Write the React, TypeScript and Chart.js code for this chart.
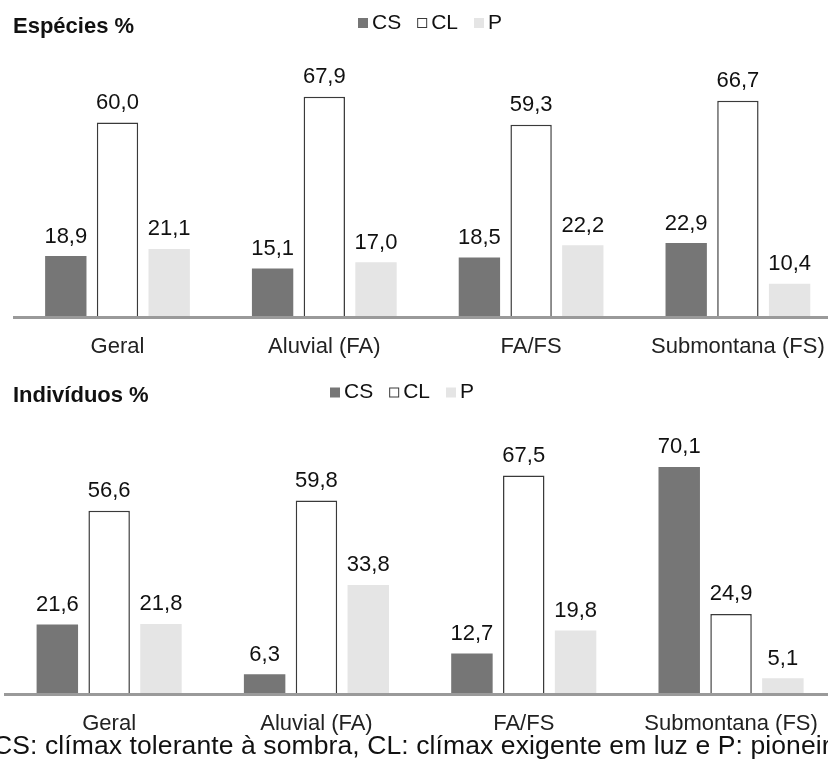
import React, { useEffect, useRef } from 'react';
import { Chart, registerables } from 'chart.js';

Chart.register(...registerables);

// ---- data ----
const categories = ['Geral', 'Aluvial (FA)', 'FA/FS', 'Submontana (FS)'];
const seriesNames = ['CS', 'CL', 'P'];
const especiesCS = [18.9, 15.1, 18.5, 22.9];
const especiesCL = [60.0, 67.9, 59.3, 66.7];
const especiesP = [21.1, 17.0, 22.2, 10.4];
const individuosCS = [21.6, 6.3, 12.7, 70.1];
const individuosCL = [56.6, 59.8, 67.5, 24.9];
const individuosP = [21.8, 33.8, 19.8, 5.1];
const panelTitles = ['Espécies %', 'Indivíduos %'];
const caption = 'CS: clímax tolerante à sombra, CL: clímax exigente em luz e P: pioneiras.';

const FONT = '"Liberation Sans", Arial, Helvetica, sans-serif';
const fillColors = ['#767676', '#ffffff', '#e5e5e5'];
const borderColors = ['#767676', '#3a3a3a', '#e5e5e5'];
const borderWidths = [0, 1.5, 0];

const valueLabelPlugin = {
  id: 'valueLabels',
  afterDatasetsDraw(chart: any) {
    const ctx = chart.ctx;
    ctx.save();
    ctx.font = `22px ${FONT}`;
    ctx.fillStyle = '#111';
    ctx.textAlign = 'center';
    ctx.textBaseline = 'alphabetic';
    chart.data.datasets.forEach((ds: any, di: number) => {
      const meta = chart.getDatasetMeta(di);
      meta.data.forEach((bar: any, i: number) => {
        const v = ds.data[i];
        const txt = v.toFixed(1).replace('.', ',');
        ctx.fillText(txt, bar.x, bar.y - 13.5);
      });
    });
    ctx.restore();
  },
};

const headerPlugin = {
  id: 'header',
  afterDraw(chart: any, _args: any, opts: any) {
    const ctx = chart.ctx;
    ctx.save();
    // title
    ctx.font = `bold 22px ${FONT}`;
    ctx.fillStyle = '#111';
    ctx.textAlign = 'left';
    ctx.textBaseline = 'alphabetic';
    ctx.fillText(opts.title, opts.titleX, opts.titleY);
    // legend
    ctx.font = `21px ${FONT}`;
    let x = opts.legendX;
    chart.data.datasets.forEach((ds: any, i: number) => {
      const boxTop = opts.legendY - 10.5;
      ctx.fillStyle = fillColors[i];
      ctx.fillRect(x, boxTop, 10, 10);
      if (i === 1) {
        ctx.strokeStyle = '#3a3a3a';
        ctx.lineWidth = 1;
        ctx.strokeRect(x + 0.5, boxTop + 0.5, 9, 9);
      }
      x += 14;
      ctx.fillStyle = '#111';
      ctx.fillText(ds.label, x, opts.legendY);
      x += ctx.measureText(ds.label).width + 16;
    });
    ctx.restore();
  },
};

type PanelProps = {
  top: number;
  height: number;
  title: string;
  cs: number[];
  cl: number[];
  p: number[];
  padding: { left: number; right: number; top: number; bottom: number };
  titleY: number;
  legendX: number;
  legendY: number;
};

function BarPanel(props: PanelProps) {
  const ref = useRef<HTMLCanvasElement>(null);
  useEffect(() => {
    if (!ref.current) return;
    const values = [props.cs, props.cl, props.p];
    const chart = new Chart(ref.current, {
      type: 'bar',
      data: {
        labels: categories,
        datasets: seriesNames.map((name, i) => ({
          label: name,
          data: values[i],
          backgroundColor: fillColors[i],
          borderColor: borderColors[i],
          borderWidth: borderWidths[i],
          categoryPercentage: 0.75,
          barPercentage: 0.8,
        })),
      },
      options: {
        responsive: false,
        animation: false,
        devicePixelRatio: 1,
        layout: { padding: props.padding },
        plugins: {
          legend: { display: false },
          title: { display: false },
          tooltip: { enabled: false },
          header: {
            title: props.title,
            titleX: 13,
            titleY: props.titleY,
            legendX: props.legendX,
            legendY: props.legendY,
          },
        } as any,
        scales: {
          x: {
            grid: { display: false, drawTicks: false },
            border: { display: true, color: '#9a9a9a', width: 3, z: 1 },
            ticks: {
              font: { family: FONT, size: 22 },
              color: '#222',
              padding: 16,
              maxRotation: 0,
              autoSkip: false,
            },
          },
          y: { display: false, min: 0, max: 80 },
        },
      },
      plugins: [valueLabelPlugin, headerPlugin],
    });
    return () => chart.destroy();
  }, []);
  return (
    <canvas
      ref={ref}
      width={850}
      height={props.height}
      style={{ position: 'absolute', left: 0, top: props.top, width: 850, height: props.height }}
    />
  );
}

export default function App() {
  return (
    <div
      style={{
        position: 'absolute',
        left: 0,
        top: 0,
        width: 828,
        height: 762,
        overflow: 'hidden',
        background: '#fff',
      }}
    >
      <BarPanel
        top={0}
        height={380}
        title={panelTitles[0]}
        cs={especiesCS}
        cl={especiesCL}
        p={especiesP}
        padding={{ left: 14.1, right: 8.7, top: 57.5, bottom: 4.1 }}
        titleY={32.7}
        legendX={358}
        legendY={28.5}
      />
      <BarPanel
        top={370}
        height={385}
        title={panelTitles[1]}
        cs={individuosCS}
        cl={individuosCL}
        p={individuosP}
        padding={{ left: 5.5, right: 15.3, top: 64.8, bottom: 1.8 }}
        titleY={31.7}
        legendX={330}
        legendY={28}
      />
      <div
        style={{
          position: 'absolute',
          left: -7,
          top: 732,
          whiteSpace: 'nowrap',
          fontFamily: FONT,
          fontSize: 26.5,
          lineHeight: '26.5px',
          letterSpacing: '0.1px',
          color: '#111',
        }}
      >
        {caption}
      </div>
    </div>
  );
}
